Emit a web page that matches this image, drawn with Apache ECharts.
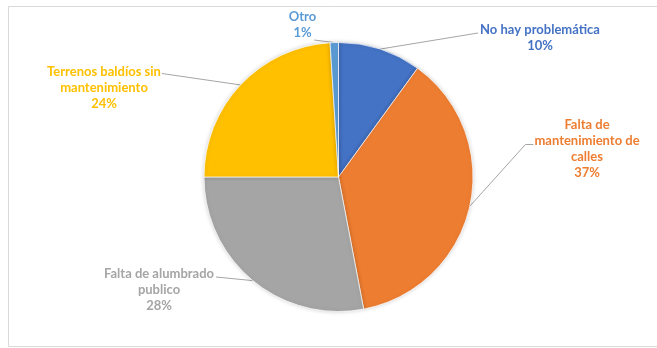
<!DOCTYPE html>
<html>
<head>
<meta charset="utf-8">
<script src="https://cdn.jsdelivr.net/npm/echarts@6/dist/echarts.min.js"></script>
<style>
html,body{margin:0;padding:0;background:#fff;}
#chart{width:657px;height:348px;}
</style>
</head>
<body>
<div id="chart"></div>
<script>
// ---- data ----
var categories = ['No hay problemática', 'Falta de\nmantenimiento de\ncalles', 'Falta de alumbrado\npublico', 'Terrenos baldíos sin\nmantenimiento', 'Otro'];
var values = [10, 37, 28, 24, 1];
var colors = ['#4472C4', '#ED7D31', '#A5A5A5', '#FFC000', '#5B9BD5'];

// ---- label placement (annotation layout, not data) ----
var labelCenters = [[540, 38], [587, 148.5], [159, 290], [104, 87.5], [302.5, 25]];
var lineHeight = 16;

var chart = echarts.init(document.getElementById('chart'), null, {renderer: 'canvas'});

var data = categories.map(function (c, i) {
  return {
    name: c,
    value: values[i],
    itemStyle: {color: colors[i]},
    label: {color: colors[i]}
  };
});

function layout(params) {
  var i = params.dataIndex;
  var c = labelCenters[i];
  var w = params.labelRect.width;
  var h = params.labelRect.height;
  var nLines = (categories[i].split('\n').length) + 1;
  var top = c[1] - nLines * lineHeight / 2;
  var left = c[0] - w / 2, right = c[0] + w / 2;
  var a = params.labelLinePoints ? params.labelLinePoints[0] : null;
  var end, mid;
  if (i === 0) { end = [left - 2, top + lineHeight * 0.5 + 3]; mid = end; }
  else if (i === 1) { end = [left - 1, top + lineHeight * 1.5 + 4]; mid = [end[0] - 8, end[1]]; }
  else if (i === 2) { end = [left + 0 + w - 1, top + lineHeight * 0.5 + 3]; mid = end; end = [c[0] + w / 2 + 2, end[1]]; mid = end; }
  else if (i === 3) { end = [right + 1, top + lineHeight * 0.5 + 2]; mid = end; }
  else { end = [right - 2, top + lineHeight * 2 - 1]; mid = end; }
  var res = {x: c[0], y: c[1], align: 'center', verticalAlign: 'middle'};
  if (a) res.labelLinePoints = [a, mid, end];
  return res;
}

chart.setOption({
  backgroundColor: '#ffffff',
  animation: false,
  graphic: [{
    type: 'rect',
    shape: {x: 8.5, y: 6.5, width: 700, height: 340},
    style: {fill: 'none', stroke: '#d9d9d9', lineWidth: 1},
    silent: true
  }],
  series: [{
    type: 'pie',
    center: [338.5, 177],
    radius: 134.5,
    startAngle: 90,
    clockwise: true,
    data: data,
    itemStyle: {borderColor: '#ffffff', borderWidth: 0.7, shadowBlur: 4, shadowColor: 'rgba(0,0,0,0.18)'},
    label: {
      show: true,
      position: 'outside',
      formatter: function (p) { return p.name + '\n' + Math.round(p.percent) + '%'; },
      fontFamily: 'Lato',
      fontWeight: 'bold',
      fontSize: 13,
      lineHeight: lineHeight,
      align: 'center'
    },
    labelLine: {show: true, length: 10, length2: 10, smooth: false, lineStyle: {color: '#a6a6a6', width: 1}},
    labelLayout: layout
  }]
});
</script>
</body>
</html>
